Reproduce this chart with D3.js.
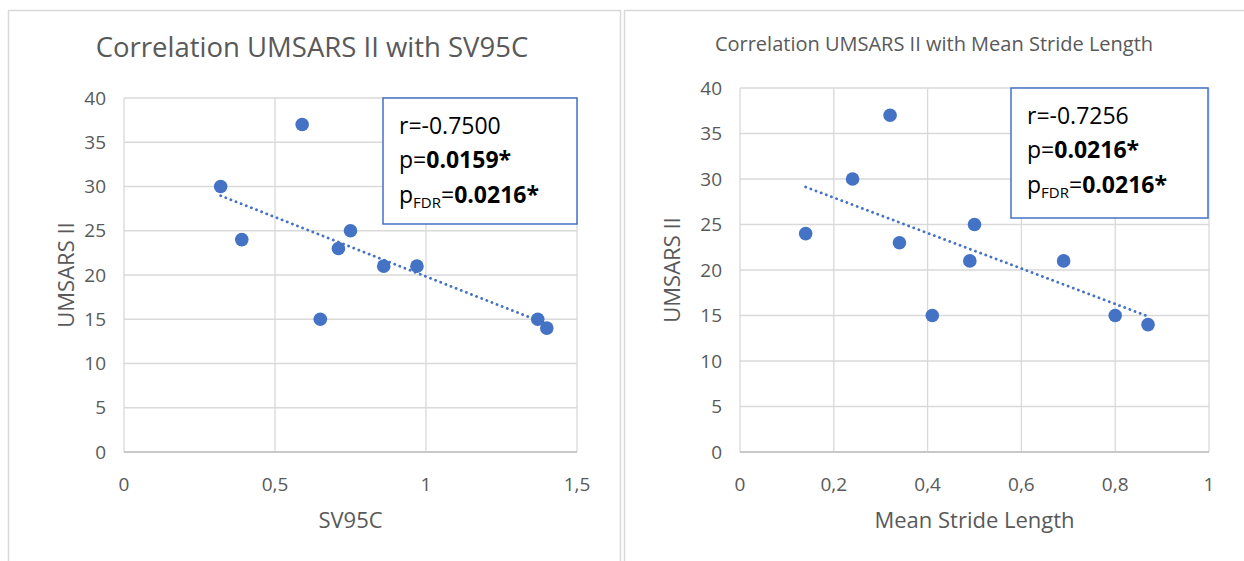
<!DOCTYPE html>
<html lang="en">
<head>
  <meta charset="UTF-8">
  <title>Correlation UMSARS II</title>
  <style>
    body { margin: 0; background: #fff; }
    svg { display: block; font-family: "Open Sans", sans-serif; }
    .grid line { stroke: #d9d9d9; stroke-width: 1.3px; }
    .tick-label { fill: #595959; font-size: 19px; }
    .axis-title { fill: #595959; font-size: 22px; }
    .note { fill: #000; font-size: 23px; }
  </style>
</head>
<body>
  <script src="https://d3js.org/d3.v7.min.js"></script>
  <script>

    // left chart: SV95C vs UMSARS II
    var sv95c      = [0.32, 0.39, 0.59, 0.65, 0.71, 0.75, 0.86, 0.97, 1.37, 1.40];
    var umsarsSV   = [30, 24, 37, 15, 23, 25, 21, 21, 15, 14];
    var sv95cTicks = [0, 0.5, 1, 1.5];

    // right chart: Mean Stride Length vs UMSARS II
    var strideLen   = [0.14, 0.24, 0.32, 0.34, 0.41, 0.49, 0.50, 0.69, 0.80, 0.87];
    var umsarsMSL   = [24, 30, 37, 23, 15, 21, 25, 21, 15, 14];
    var strideTicks = [0, 0.2, 0.4, 0.6, 0.8, 1];

    var umsarsTicks = [0, 5, 10, 15, 20, 25, 30, 35, 40];

    var statsSV  = ["-0.7500", "0.0159*", "0.0216*"];  // r, p, pFDR
    var statsMSL = ["-0.7256", "0.0216*", "0.0216*"];

    var width = 1244, height = 561;
    var blue = "#4472c4";

    var svg = d3.select("body").append("svg")
        .attr("width", width)
        .attr("height", height);

    var comma = d3.formatLocale({decimal: ",", thousands: ".", grouping: [3], currency: ["", ""]});
    var fmt = comma.format(".1~f");

    function linearFit(xs, ys) {
      var mx = d3.mean(xs), my = d3.mean(ys);
      var sxy = d3.sum(xs, function(x, i){ return (x - mx) * (ys[i] - my); });
      var sxx = d3.sum(xs, function(x){ return (x - mx) * (x - mx); });
      var b = sxy / sxx;
      return {b: b, a: my - b * mx};
    }

    function drawChart(c) {
      var g = svg.append("g");

      // chart frame
      g.append("rect")
          .attr("x", c.frame[0] + 0.5).attr("y", c.frame[1] + 0.5)
          .attr("width", c.frame[2]).attr("height", c.frame[3])
          .attr("fill", "#fff")
          .attr("stroke", "#d9d9d9")
          .attr("stroke-width", 1.5);

      var x = d3.scaleLinear().domain(c.xDomain).range([c.plot[0], c.plot[1]]);
      var y = d3.scaleLinear().domain([0, 40]).range([c.plot[3], c.plot[2]]);

      var grid = g.append("g").attr("class", "grid");
      grid.selectAll(".hg").data(umsarsTicks).enter().append("line")
          .attr("x1", c.plot[0]).attr("x2", c.plot[1])
          .attr("y1", function(d){ return y(d); })
          .attr("y2", function(d){ return y(d); });
      grid.selectAll(".vg").data(c.xTicks).enter().append("line")
          .attr("y1", c.plot[2]).attr("y2", c.plot[3])
          .attr("x1", function(d){ return x(d); })
          .attr("x2", function(d){ return x(d); });

      // bottom axis line a little darker
      g.append("line")
          .attr("x1", c.plot[0]).attr("x2", c.plot[1])
          .attr("y1", y(0)).attr("y2", y(0))
          .attr("stroke", "#bfbfbf").attr("stroke-width", 1.5);

      g.selectAll(".yl").data(umsarsTicks).enter().append("text")
          .attr("class", "tick-label")
          .attr("x", c.plot[0] - 18)
          .attr("y", function(d){ return y(d); })
          .attr("dy", "0.35em")
          .attr("text-anchor", "end")
          .text(function(d){ return d; });

      g.selectAll(".xl").data(c.xTicks).enter().append("text")
          .attr("class", "tick-label")
          .attr("x", function(d){ return x(d); })
          .attr("y", y(0) + 32)
          .attr("dy", "0.35em")
          .attr("text-anchor", "middle")
          .text(function(d){ return fmt(d); });

      // titles
      g.append("text")
          .attr("x", c.titlePos[0]).attr("y", c.titlePos[1])
          .attr("text-anchor", "middle")
          .attr("fill", "#595959")
          .attr("font-size", c.titleSize)
          .text(c.title);

      g.append("text")
          .attr("class", "axis-title")
          .attr("x", (c.plot[0] + c.plot[1]) / 2)
          .attr("y", y(0) + 68)
          .attr("dy", "0.35em")
          .attr("text-anchor", "middle")
          .text(c.xTitle);

      g.append("text")
          .attr("class", "axis-title")
          .attr("transform", "translate(" + c.yTitleX + "," + ((c.plot[2] + c.plot[3]) / 2) + ") rotate(-90)")
          .attr("dy", "0.35em")
          .attr("text-anchor", "middle")
          .text("UMSARS II");

      // dotted linear trendline
      var fit = linearFit(c.xs, c.ys);
      var ext = d3.extent(c.xs);
      g.append("line")
          .attr("x1", x(ext[0])).attr("y1", y(fit.a + fit.b * ext[0]))
          .attr("x2", x(ext[1])).attr("y2", y(fit.a + fit.b * ext[1]))
          .attr("stroke", blue)
          .attr("stroke-width", 2.8)
          .attr("stroke-linecap", "round")
          .attr("stroke-dasharray", "0.1,5.4");

      g.selectAll(".dot").data(c.xs).enter().append("circle")
          .attr("cx", function(d){ return x(d); })
          .attr("cy", function(d, i){ return y(c.ys[i]); })
          .attr("r", 6.8)
          .attr("fill", blue);

      // stats box
      var b = c.box;
      g.append("rect")
          .attr("x", b[0]).attr("y", b[1])
          .attr("width", b[2]).attr("height", b[3])
          .attr("fill", "#fff")
          .attr("stroke", blue)
          .attr("stroke-width", 1.5);

      var tx = b[0] + 16, ty = b[1] + 36;
      g.append("text").attr("class", "note")
          .attr("x", tx).attr("y", ty)
          .text("r=" + c.stats[0]);

      var t2 = g.append("text").attr("class", "note")
          .attr("x", tx).attr("y", ty + 34);
      t2.append("tspan").text("p=");
      t2.append("tspan").attr("font-weight", "bold").text(c.stats[1]);

      var t3 = g.append("text").attr("class", "note")
          .attr("x", tx).attr("y", ty + 69);
      t3.append("tspan").text("p");
      t3.append("tspan").attr("font-size", 15).attr("dy", 5).text("FDR");
      t3.append("tspan").attr("dy", -5).text("=");
      t3.append("tspan").attr("font-weight", "bold").text(c.stats[2]);
    }

    drawChart({
      frame: [8, 10, 612, 560],
      plot: [124, 577, 98, 452],
      xDomain: [0, 1.5],
      xTicks: sv95cTicks,
      xs: sv95c, ys: umsarsSV,
      title: "Correlation UMSARS II with SV95C",
      titlePos: [312, 57], titleSize: 27.5,
      xTitle: "SV95C",
      yTitleX: 66,
      box: [383, 98, 194, 126],
      stats: statsSV
    });

    drawChart({
      frame: [624, 10, 630, 560],
      plot: [740, 1209, 88, 452],
      xDomain: [0, 1],
      xTicks: strideTicks,
      xs: strideLen, ys: umsarsMSL,
      title: "Correlation UMSARS II with Mean Stride Length",
      titlePos: [934, 51], titleSize: 20,
      xTitle: "Mean Stride Length",
      yTitleX: 672,
      box: [1011, 88, 197, 130],
      stats: statsMSL
    });

  </script>
</body>
</html>
